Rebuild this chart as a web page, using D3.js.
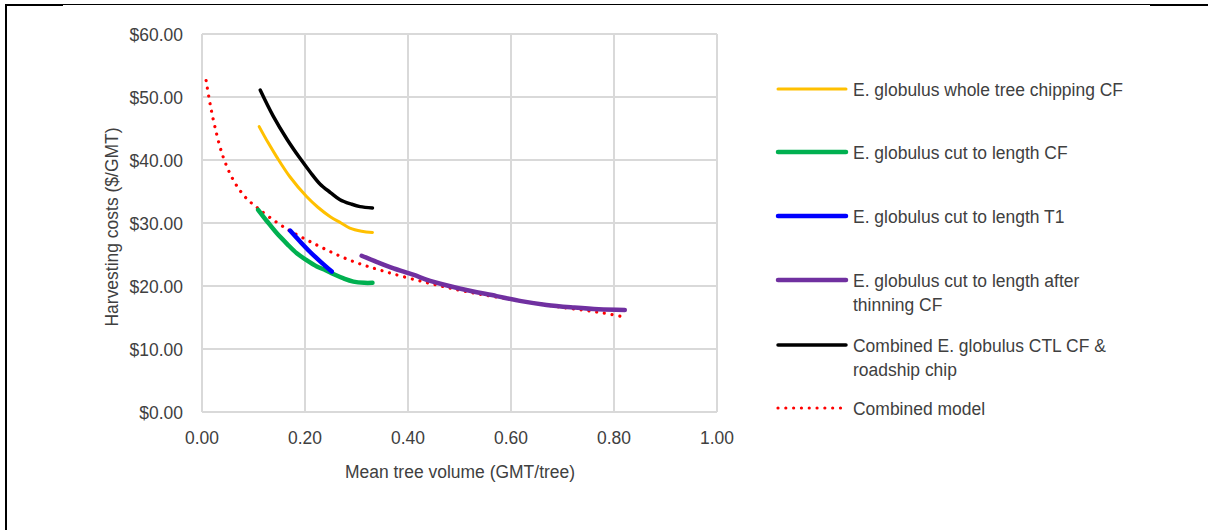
<!DOCTYPE html>
<html><head><meta charset="utf-8">
<script src="https://cdn.jsdelivr.net/npm/d3@7"></script>
<style>
body{margin:0;background:#fff}
text{font-family:"Liberation Sans",Arial,sans-serif;fill:#404040;font-size:19px}
</style></head><body>
<svg id="c" width="1208" height="530"></svg>
<script>
const xTicks=[0,0.2,0.4,0.6,0.8,1.0];
const yTicks=[0,10,20,30,40,50,60];
const seriesNames=["E. globulus whole tree chipping CF","E. globulus cut to length CF","E. globulus cut to length T1","E. globulus cut to length after|thinning CF","Combined E. globulus CTL CF &|roadship chip","Combined model"];
const chipX=[0.111,0.128,0.145,0.171,0.203,0.225,0.249,0.270,0.287,0.310,0.331];
const chipY=[45.3,42.8,40.5,37.3,34.2,32.5,31.0,30.0,29.2,28.7,28.5];
const ctlX=[0.109,0.127,0.145,0.165,0.184,0.203,0.223,0.240,0.255,0.275,0.294,0.315,0.331];
const ctlY=[32.1,30.2,28.4,26.7,25.2,24.1,23.1,22.5,21.9,21.2,20.7,20.5,20.5];
const t1X=[0.171,0.190,0.210,0.231,0.252];
const t1Y=[28.8,27.1,25.4,23.8,22.3];
const thinX=[0.310,0.340,0.372,0.410,0.443,0.500,0.572,0.620,0.669,0.720,0.770,0.821];
const thinY=[24.8,23.8,22.8,21.8,20.8,19.6,18.4,17.6,17.0,16.6,16.3,16.2];
const combX=[0.113,0.138,0.165,0.190,0.210,0.229,0.250,0.268,0.290,0.307,0.331];
const combY=[51.1,47.0,43.3,40.3,38.1,36.2,34.8,33.7,33.0,32.6,32.4];
const modelX=[0.008,0.0155,0.025,0.041,0.061,0.083,0.109,0.158,0.223,0.287,0.355,0.443,0.520,0.605,0.700,0.780,0.825];
const modelY=[52.6,49.0,45.3,40.5,36.8,34.2,32.3,29.4,26.5,24.1,22.3,20.4,19.0,17.8,16.6,15.7,15.0];

const styles=[
 {c:"#FFC000",w:3},{c:"#00B050",w:4.5},{c:"#0000FF",w:4.5},{c:"#7030A0",w:4.5},{c:"#000000",w:3.5},{c:"#FF0000",w:3.2,dash:"0.01 7.8"}
];
const seriesData=[[chipX,chipY],[ctlX,ctlY],[t1X,t1Y],[thinX,thinY],[combX,combY],[modelX,modelY]];

const svg=d3.select("#c");
const SX=0.92;
function txt(g,x,y,s,anchor,rot){
  const gg=g.append("g").attr("transform",`translate(${x},${y})`+(rot?` rotate(${rot})`:""));
  return gg.append("text").attr("transform",`scale(${SX},1)`).attr("text-anchor",anchor||"start").text(s);
}
// frame
svg.append("line").attr("x1",5).attr("x2",1208).attr("y1",4.5).attr("y2",4.5).attr("stroke","#000").attr("stroke-width",1);
svg.append("line").attr("x1",5).attr("x2",63).attr("y1",5).attr("y2",5).attr("stroke","#000").attr("stroke-width",2);
svg.append("line").attr("x1",1150).attr("x2",1208).attr("y1",5).attr("y2",5).attr("stroke","#000").attr("stroke-width",2);
svg.append("line").attr("x1",6).attr("x2",6).attr("y1",4).attr("y2",530).attr("stroke","#000").attr("stroke-width",2);

const x=d3.scaleLinear().domain([0,1]).range([202,717]);
const y=d3.scaleLinear().domain([0,60]).range([412,34]);

// grid
const grid=svg.append("g");
grid.selectAll(".v").data(xTicks).join("line").attr("x1",d=>x(d)).attr("x2",d=>x(d)).attr("y1",y(60)).attr("y2",y(0)).attr("stroke","#d9d9d9").attr("stroke-width",2);
grid.selectAll(".h").data(yTicks).join("line").attr("x1",x(0)).attr("x2",x(1)).attr("y1",d=>y(d)).attr("y2",d=>y(d)).attr("stroke","#d9d9d9").attr("stroke-width",2);

xTicks.forEach(t=>txt(svg,x(t),444,d3.format(".2f")(t),"middle"));
yTicks.forEach(t=>txt(svg,183,y(t)+7,"$"+d3.format(".2f")(t),"end"));
txt(svg,460,478,"Mean tree volume (GMT/tree)","middle");
txt(svg,118,227,"Harvesting costs ($/GMT)","middle",-90);

// series
const line=d3.line().x(d=>x(d[0])).y(d=>y(d[1])).curve(d3.curveCatmullRom.alpha(0.5));
const order=[5,0,4,3,1,2];
order.forEach(i=>{
  const [xs,ys]=seriesData[i];
  const pts=xs.map((v,k)=>[v,ys[k]]);
  const p=svg.append("path").attr("d",line(pts)).attr("fill","none").attr("stroke",styles[i].c).attr("stroke-width",styles[i].w).attr("stroke-linecap","round").attr("stroke-linejoin","round");
  if(styles[i].dash) p.attr("stroke-dasharray",styles[i].dash);
});

// legend
const legY=[89,152,216,280,345,408];
seriesNames.forEach((n,i)=>{
  const l=svg.append("line").attr("x1",778).attr("x2",i===5?842:846).attr("y1",legY[i]).attr("y2",legY[i]).attr("stroke",styles[i].c).attr("stroke-width",styles[i].w).attr("stroke-linecap","round");
  if(styles[i].dash) l.attr("stroke-dasharray",styles[i].dash);
  n.split("|").forEach((s,k)=>txt(svg,853,legY[i]+7+k*24,s,"start"));
});
</script></body></html>
